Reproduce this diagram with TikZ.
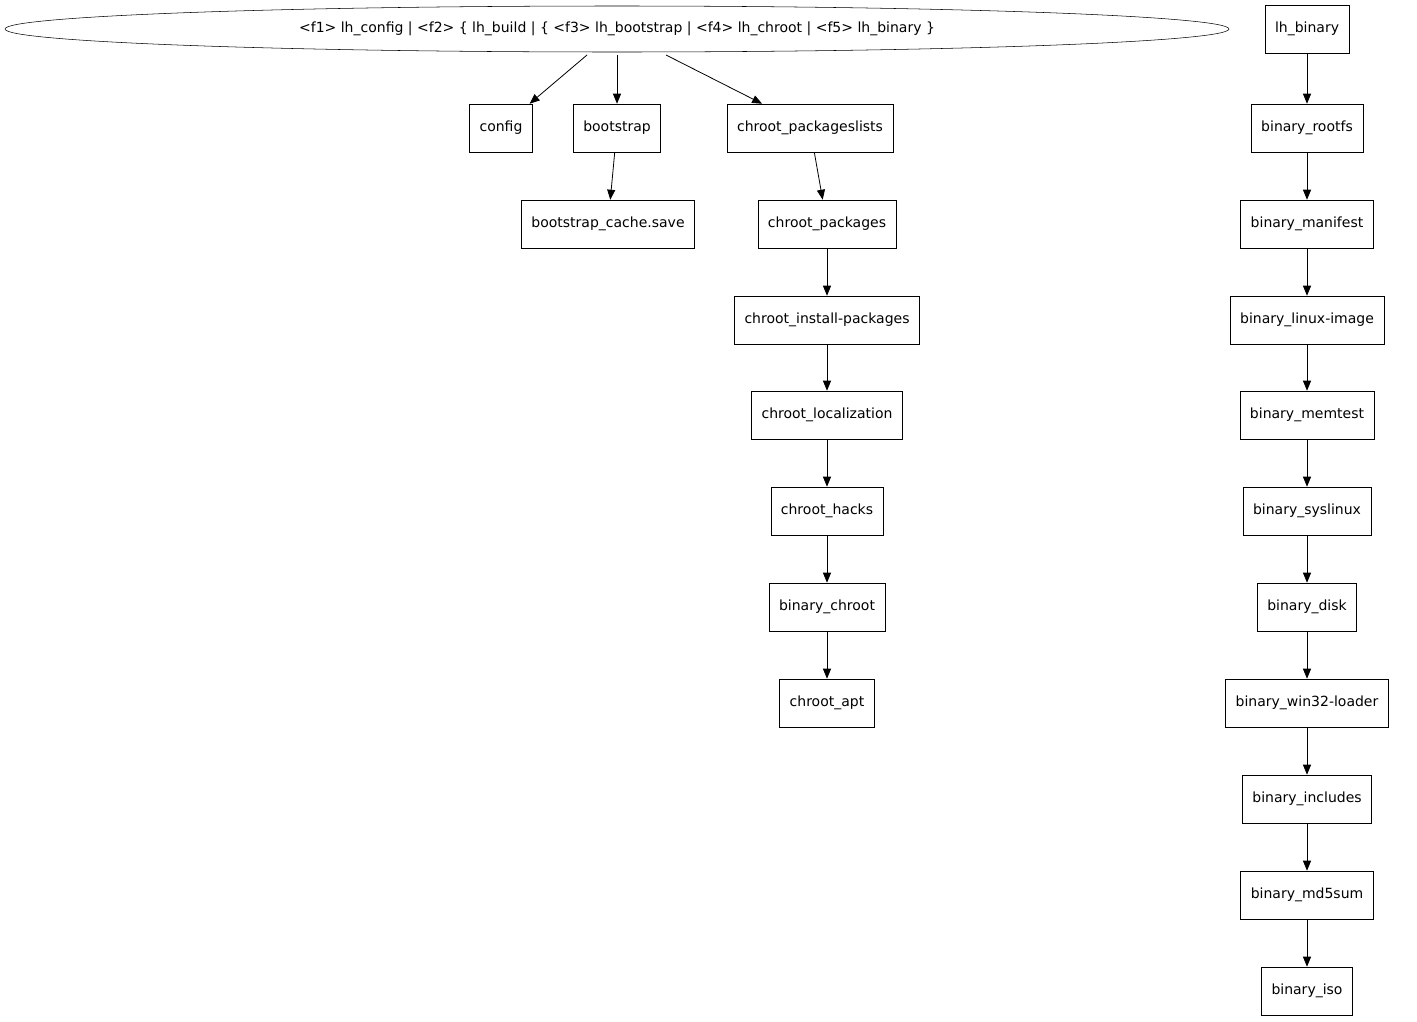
\documentclass[tikz,border=0pt]{standalone}
\usepackage{fontspec}
\setmainfont{DejaVu Sans}
\usetikzlibrary{arrows.meta,shapes.geometric}

\tikzset{
    box/.style={draw, rectangle, minimum height=36pt, inner xsep=7.5pt, font=\fontsize{10.5}{12}\selectfont},
    link/.style={-{Triangle[length=7.5pt,width=6pt]}, line width=0.6pt}
}

\begin{document}
\begin{tikzpicture}[x=0.75pt, y=-0.75pt]

    \useasboundingbox (0,0) rectangle (1417,1021);

    %% Record node
    \node[draw, ellipse, minimum width=918pt, minimum height=34.5pt, inner sep=0pt,
        font=\fontsize{10.5}{12}\selectfont] (rec) at (617,29)
        {<f1> lh\_config | <f2> \{ lh\_build | \{ <f3> lh\_bootstrap | <f4> lh\_chroot | <f5> lh\_binary \}};
    \coordinate (f1) at (587,55);
    \coordinate (f3) at (617,55);
    \coordinate (f4) at (666,55);

    % Left branches
    \node[box] (config) at (501,128) {config};
    \node[box] (bootstrap) at (617,128) {bootstrap};
    \node[box] (cachesave) at (608,224) {bootstrap\_cache.save};
    \draw[link] (f1) -- (config);
    \draw[link] (f3) -- (bootstrap);
    \draw[link] (bootstrap) -- (cachesave);

    % Chroot chain
    \node[box] (pkglists) at (810,128) {chroot\_packageslists};
    \node[box] (pkgs) at (827,224) {chroot\_packages};
    \node[box] (install) at (827,320) {chroot\_install-packages};
    \node[box] (locale) at (827,415) {chroot\_localization};
    \node[box] (hacks) at (827,511) {chroot\_hacks};
    \node[box] (bchroot) at (827,607) {binary\_chroot};
    \node[box] (apt) at (827,703) {chroot\_apt};
    \draw[link] (f4) -- (pkglists);
    \foreach \a/\b in {pkglists/pkgs, pkgs/install, install/locale, locale/hacks, hacks/bchroot, bchroot/apt}
        \draw[link] (\a) -- (\b);

    % Binary chain
    \node[box] (lhbin) at (1307,29) {lh\_binary};
    \node[box] (rootfs) at (1307,128) {binary\_rootfs};
    \node[box] (manifest) at (1307,224) {binary\_manifest};
    \node[box] (linux) at (1307,320) {binary\_linux-image};
    \node[box] (memtest) at (1307,415) {binary\_memtest};
    \node[box] (syslinux) at (1307,511) {binary\_syslinux};
    \node[box] (disk) at (1307,607) {binary\_disk};
    \node[box] (win32) at (1307,703) {binary\_win32-loader};
    \node[box] (includes) at (1307,799) {binary\_includes};
    \node[box] (md5) at (1307,895) {binary\_md5sum};
    \node[box] (iso) at (1307,991) {binary\_iso};
    \foreach \a/\b in {lhbin/rootfs, rootfs/manifest, manifest/linux, linux/memtest, memtest/syslinux,
        syslinux/disk, disk/win32, win32/includes, includes/md5, md5/iso}
        \draw[link] (\a) -- (\b);

\end{tikzpicture}
\end{document}
